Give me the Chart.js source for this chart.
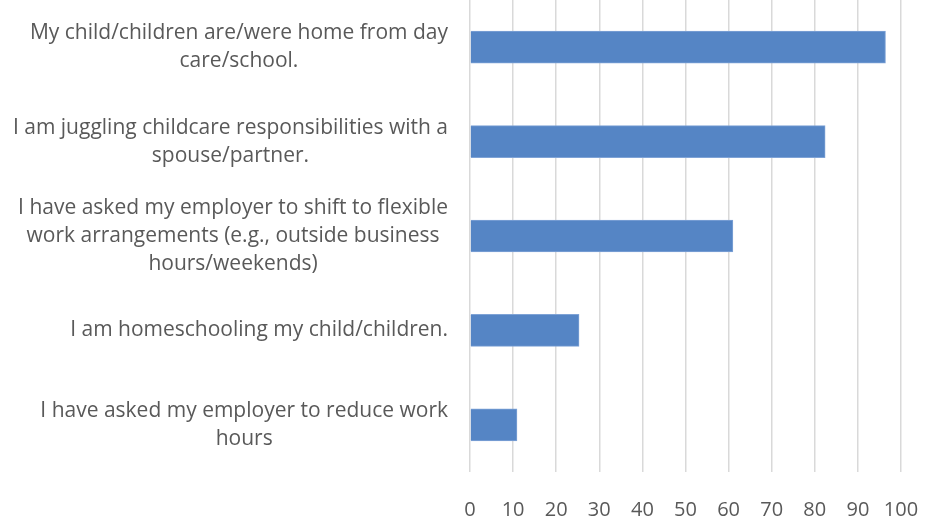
<!DOCTYPE html>
<html>
<head>
<meta charset="utf-8">
<script src="https://cdn.jsdelivr.net/npm/chart.js@4"></script>
<style>
  html, body { margin: 0; padding: 0; background: #fff; }
</style>
</head>
<body>
<canvas id="chart" width="938" height="529"></canvas>
<script>
const categories = [
    ['My child/children are/were home from day', 'care/school.'],
    ['I am juggling childcare responsibilities with a', 'spouse/partner.'],
    ['I have asked my employer to shift to flexible', 'work arrangements (e.g., outside business', 'hours/weekends)'],
    ['I am homeschooling my child/children.'],
    ['I have asked my employer to reduce work', 'hours']
];
const values = [96.4, 82.4, 61.0, 25.3, 10.9];
const xTicks = [0, 10, 20, 30, 40, 50, 60, 70, 80, 90, 100];

const textColor = '#595959';
const fontFamily = '"Open Sans", "Liberation Sans", sans-serif';

// draws the category labels: block right aligned, lines centred inside it
const labelPlugin = {
    id: 'blockLabels',
    afterDraw(chart) {
        const c = chart.ctx;
        const yScale = chart.scales.y;
        const rightEdge = 448;
        const lineH = 28;
        c.save();
        c.font = '21px ' + fontFamily;
        c.fillStyle = textColor;
        c.textAlign = 'center';
        c.textBaseline = 'middle';
        categories.forEach((lines, i) => {
            const w = Math.max(...lines.map(l => c.measureText(l).width));
            const cx = rightEdge - w / 2;
            const cy = yScale.getPixelForValue(i);
            const startY = cy - (lines.length - 1) * lineH / 2;
            lines.forEach((l, j) => c.fillText(l, cx, startY + j * lineH));
        });
        c.restore();
    }
};

const ctx = document.getElementById('chart').getContext('2d');
new Chart(ctx, {
    type: 'bar',
    data: {
        labels: categories,
        datasets: [{
            data: values,
            backgroundColor: '#5585c5',
            borderColor: '#7fa3d6',
            borderWidth: 1,
            barThickness: 32
        }]
    },
    options: {
        indexAxis: 'y',
        responsive: false,
        animation: false,
        layout: { padding: { top: 0, right: 37, bottom: 0, left: 0 } },
        plugins: { legend: { display: false }, tooltip: { enabled: false } },
        scales: {
            x: {
                min: 0,
                max: 100,
                afterBuildTicks: s => { s.ticks = xTicks.map(v => ({ value: v })); },
                grid: { color: '#d9d9d9', lineWidth: 1.5, drawTicks: false },
                border: { display: false },
                ticks: { color: textColor, font: { family: fontFamily, size: 20 }, padding: 26 },
                afterFit: s => { s.height = 57; s.paddingLeft = 0; s.paddingRight = 0; }
            },
            y: {
                grid: { display: false },
                border: { display: false },
                ticks: { display: false },
                afterFit: s => { s.width = 470; }
            }
        }
    },
    plugins: [labelPlugin]
});
</script>
</body>
</html>
